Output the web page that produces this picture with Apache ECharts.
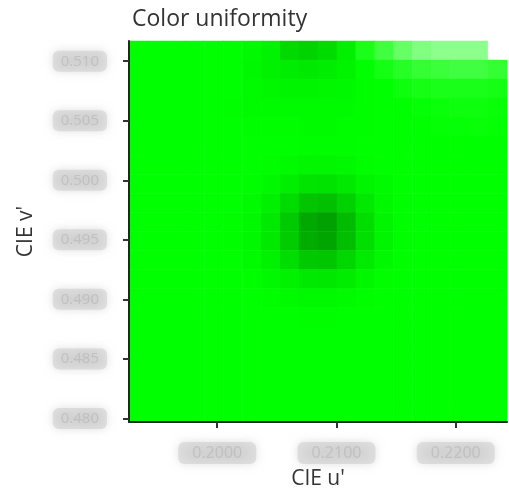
<!DOCTYPE html>
<html>
<head>
<meta charset="utf-8">
<script src="https://cdn.jsdelivr.net/npm/echarts@6/dist/echarts.min.js"></script>
<style>html,body{margin:0;padding:0;background:#fff}#c{width:509px;height:498px}</style>
</head>
<body>
<div id="c"></div>
<script>
// Tick labels (blurred in the reference; estimated)
const uTicks = [0.200, 0.210, 0.220];
const vTicks = [0.480, 0.485, 0.490, 0.495, 0.500, 0.505, 0.510];
const uRange = [0.1926, 0.2243];
const vRange = [0.4797, 0.5117];

// Uniformity map: rows top -> bottom, columns left -> right (10 = nominal bright green)
const row00 = [10,10,10,10,10,10,9.7,9,6.8,6.2,7,8.7,11,12.5,14,15,15.5,15.5,15.5,20];
const row01 = [10,10,10,10,10,10,9.5,8.9,8.4,8.1,8.4,9.1,10,10.8,11.5,12,12.3,12.5,12.5,12];
const row02 = [10,10,10,10,10,10,9.6,9.3,9.2,9.2,9.3,9.5,9.8,10,10.5,10.8,11,11,11,10.8];
const row03 = [10,10,10,10,10,9.8,9.7,9.6,9.6,9.6,9.6,9.7,9.8,10,10,10.2,10.4,10.5,10.5,10.3];
const row04 = [10,10,10,10,10,10,9.8,9.8,9.8,9.7,9.7,9.8,9.8,10,10,10,10.2,10.2,10.3,10.2];
const row05 = [10,10,10,10,10,10,10,10,10,9.9,9.9,9.9,10,10,10,10,10,10,10,10];
const row06 = [10,10,10,10,10,10,10,9.8,9.6,9.3,9.3,9.5,9.8,10,10,10,10,10,10,10];
const row07 = [10,10,10,10,10,10,9.8,9.4,8.6,7.7,7.5,8.2,9.2,9.7,10,10,10,10,10,10];
const row08 = [10,10,10,10,10,10,9.6,8.8,6.9,5.0,4.6,6.1,8.1,9.4,9.9,10,10,10,10,10];
const row09 = [10,10,10,10,10,9.9,9.5,8.1,5.5,2.6,2.0,4.3,7.2,9.2,9.8,10,10,10,10,10];
const row10 = [10,10,10,10,10,9.9,9.5,8.2,5.6,2.9,2.3,4.5,7.3,9.2,9.8,10,10,10,10,10];
const row11 = [10,10,10,10,10,10,9.6,8.9,7.1,5.4,5.1,6.5,8.3,9.5,9.9,10,10,10,10,10];
const row12 = [10,10,10,10,10,10,9.9,9.5,8.9,8.1,8.0,8.5,9.3,9.8,10,10,10,10,10,10];
const row13 = [10,10,10,10,10,10,10,9.9,9.6,9.5,9.4,9.6,9.8,10,10,10,10,10,10,10];
const row14 = [10,10,10,10,10,10,10,10,10,9.9,9.9,10,10,10,10,10,10,10,10,10];
const row15 = [10,10,10,10,10,10,10,10,10,10,10,10,10,10,10,10,10,10,10,10];
const row16 = [10,10,10,10,10,10,10,10,10,10,10,10,10,10,10,10,10,10,10,10];
const row17 = [10,10,10,10,10,10,10,10,10,10,10,10,10,10,10,10,10,10,10,10];
const row18 = [10,10,10,10,10,10,10,10,10,10,10,10,10,10,10,10,10,10,10,10];
const row19 = [10,10,10,10,10,10,10,10,10,10,10,10,10,10,10,10,10,10,10,10];
const rows = [row00,row01,row02,row03,row04,row05,row06,row07,row08,row09,
              row10,row11,row12,row13,row14,row15,row16,row17,row18,row19];

const colCats = row00.map((_, i) => String(i));
const rowCats = rows.map((_, j) => String(j));
const cells = [];
rows.forEach((r, j) => r.forEach((v, i) => cells.push([i, j, v])));

const chart = echarts.init(document.getElementById('c'), null, {renderer: 'canvas'});
const font = 'Open Sans';
const blurLabel = {
  color: 'rgba(150,150,150,0.3)',
  textShadowColor: 'rgba(150,150,150,1)',
  textShadowBlur: 8,
  fontFamily: font,
  backgroundColor: 'rgba(208,208,208,0.6)',
  borderRadius: 6,
  shadowBlur: 10,
  shadowColor: 'rgba(205,205,205,1)'
};
chart.setOption({
  animation: false,
  backgroundColor: '#ffffff',
  title: {
    text: 'Color uniformity',
    left: 127, top: 3,
    textStyle: {fontFamily: font, fontSize: 23, fontWeight: 'normal', color: '#333333'}
  },
  grid: {left: 129, right: 2, top: 41, bottom: 76, containLabel: false},
  visualMap: {
    show: false, type: 'continuous', min: 0, max: 20, seriesIndex: 0,
    inRange: {color: ['#008a00', '#00ff00', '#ffffff']}
  },
  xAxis: [
    {type: 'category', data: colCats, show: false, boundaryGap: true},
    {type: 'value', position: 'bottom', min: uRange[0], max: uRange[1], z: 10,
     name: "CIE u'", nameLocation: 'middle', nameGap: 47,
     nameTextStyle: {fontFamily: font, fontSize: 21, color: '#333333'},
     axisLine: {show: true, lineStyle: {color: '#1c2a1c', width: 2}},
     axisTick: {show: true, customValues: uTicks, length: 6, lineStyle: {color: '#333', width: 2}},
     axisLabel: Object.assign({customValues: uTicks, fontSize: 16, margin: 20, padding: [3, 14],
       formatter: v => v.toFixed(4)}, blurLabel),
     splitLine: {show: false}}
  ],
  yAxis: [
    {type: 'category', data: rowCats, show: false, inverse: true, boundaryGap: true},
    {type: 'value', position: 'left', min: vRange[0], max: vRange[1], z: 10,
     name: "CIE v'", nameLocation: 'middle', nameGap: 92, nameRotate: 90,
     nameTextStyle: {fontFamily: font, fontSize: 21, color: '#333333'},
     axisLine: {show: true, lineStyle: {color: '#1c2a1c', width: 2}},
     axisTick: {show: true, customValues: vTicks, length: 6, lineStyle: {color: '#333', width: 2}},
     axisLabel: Object.assign({customValues: vTicks, fontSize: 15, margin: 22, padding: [3, 8],
       formatter: v => v.toFixed(3)}, blurLabel),
     splitLine: {show: false}}
  ],
  series: [{
    type: 'heatmap',
    xAxisIndex: 0, yAxisIndex: 0,
    data: cells,
    itemStyle: {borderWidth: 0},
    emphasis: {disabled: true}
  }]
});
</script>
</body>
</html>
